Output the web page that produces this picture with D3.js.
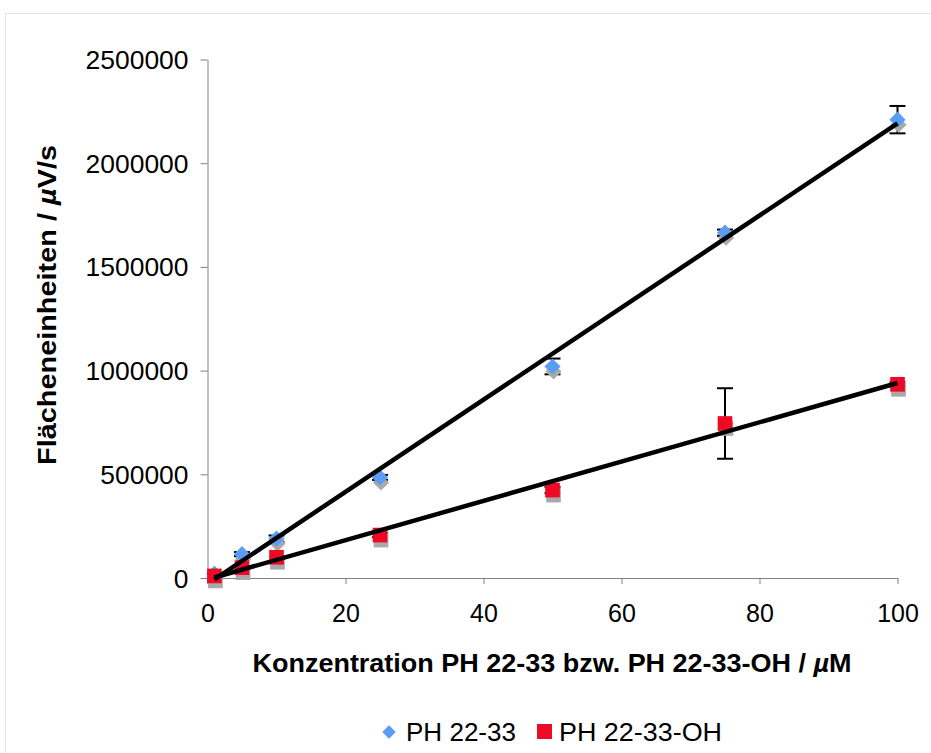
<!DOCTYPE html>
<html>
<head>
<meta charset="utf-8">
<script src="https://cdn.jsdelivr.net/npm/d3@7"></script>
<style>
  body { margin: 0; background: #fff; }
  text { font-family: "Liberation Sans", Arial, Helvetica, sans-serif; fill: #000; }
</style>
</head>
<body>
<div id="chart"></div>
<script>
// data
var conc = [1, 5, 10, 25, 50, 75, 100];
var ph = [20000, 115000, 190000, 485000, 1020000, 1665000, 2210000];
var phErr = [0, 10000, 15000, 12000, 38000, 15000, 66000];
var phOH = [10000, 50000, 100000, 207000, 424000, 745000, 934000];
var phOHErr = [0, 0, 0, 10000, 15000, 170000, 10000];
var xTicks = [0, 20, 40, 60, 80, 100];
var yTicks = [0, 500000, 1000000, 1500000, 2000000, 2500000];
var seriesNames = ["PH 22-33", "PH 22-33-OH"];

var W = 931, H = 753;
var margin = { top: 59.5, right: 33.5, bottom: 175, left: 207.5 },
    width = W - margin.left - margin.right,
    height = H - margin.top - margin.bottom;

var root = d3.select("#chart").append("svg")
    .attr("width", W)
    .attr("height", H);

// light frame round the chart
root.append("rect")
    .attr("x", 5.5).attr("y", 13.5)
    .attr("width", 960).attr("height", 780)
    .attr("fill", "none")
    .attr("stroke", "#e4e4e4");

var svg = root.append("g")
    .attr("transform", "translate(" + margin.left + "," + margin.top + ")");

var x = d3.scaleLinear().domain([0, 100]).range([0, width]);
var y = d3.scaleLinear().domain([0, 2500000]).range([height, 0]);

// axes
var xAxis = svg.append("g")
    .attr("transform", "translate(0," + height + ")")
    .call(d3.axisBottom(x).tickValues(xTicks).tickSize(6).tickPadding(20).tickSizeOuter(0));
var yAxis = svg.append("g")
    .call(d3.axisLeft(y).tickValues(yTicks).tickFormat(d3.format("d")).tickSize(7).tickPadding(12).tickSizeOuter(0));

[xAxis, yAxis].forEach(function(a) {
  a.select(".domain").attr("stroke", "#7f7f7f");
  a.selectAll(".tick line").attr("stroke", "#7f7f7f");
  a.selectAll("text")
    .style("font-family", "'Liberation Sans', Arial, sans-serif")
    .style("font-size", "25px")
    .attr("fill", "#000");
});
yAxis.selectAll("text").attr("dy", "0.36em")
    .attr("textLength", function(d) { return String(d).length * 14.7; })
    .attr("lengthAdjust", "spacingAndGlyphs");

// least squares trend line
function fit(xs, ys) {
  var mx = d3.mean(xs), my = d3.mean(ys);
  var sxy = d3.sum(xs, function(v, i) { return (v - mx) * (ys[i] - my); });
  var sxx = d3.sum(xs, function(v) { return (v - mx) * (v - mx); });
  var b = sxy / sxx;
  return { b: b, a: my - b * mx };
}

var series = [
  { name: seriesNames[0], vals: ph, err: phErr, color: "#5b9cf5", shape: "diamond" },
  { name: seriesNames[1], vals: phOH, err: phOHErr, color: "#ee0a24", shape: "square" }
];

var diamond = d3.symbol().type(d3.symbolSquare).size(130);
var square = d3.symbol().type(d3.symbolSquare).size(215);

// error bars
series.forEach(function(s) {
  var g = svg.append("g").attr("stroke", "#000").attr("stroke-width", 2);
  conc.forEach(function(c, i) {
    if (!s.err[i]) return;
    var cx = x(c), y1 = y(s.vals[i] + s.err[i]), y2 = y(s.vals[i] - s.err[i]);
    g.append("line").attr("x1", cx).attr("x2", cx).attr("y1", y1).attr("y2", y2);
    g.append("line").attr("x1", cx - 8).attr("x2", cx + 8).attr("y1", y1).attr("y2", y1);
    g.append("line").attr("x1", cx - 8).attr("x2", cx + 8).attr("y1", y2).attr("y2", y2);
  });
});

// markers with their grey shadow
series.forEach(function(s) {
  var sym = s.shape === "diamond" ? diamond : square;
  var rot = s.shape === "diamond" ? " rotate(45)" : "";
  svg.append("g").selectAll("path")
    .data(conc)
    .enter()
    .append("path")
      .attr("d", sym)
      .attr("transform", function(d, i) { return "translate(" + (x(d) + 1) + "," + (y(s.vals[i]) + 5) + ")" + rot; })
      .attr("fill", "#a9a9a9");
  svg.append("g").selectAll("path")
    .data(conc)
    .enter()
    .append("path")
      .attr("d", sym)
      .attr("transform", function(d, i) { return "translate(" + x(d) + "," + y(s.vals[i]) + ")" + rot; })
      .attr("fill", s.color);
});

// trend lines
series.forEach(function(s) {
  var f = fit(conc, s.vals);
  var x0 = d3.min(conc), x1 = d3.max(conc);
  svg.append("line")
    .attr("x1", x(x0)).attr("y1", y(f.a + f.b * x0))
    .attr("x2", x(x1)).attr("y2", y(f.a + f.b * x1))
    .attr("stroke", "#000")
    .attr("stroke-width", 4.5);
});

// axis titles
var xt = root.append("text")
    .attr("x", 552).attr("y", 672)
    .attr("text-anchor", "middle")
    .attr("textLength", 599)
    .attr("lengthAdjust", "spacingAndGlyphs")
    .style("font-size", "25px")
    .style("font-weight", "bold");
xt.append("tspan").text("Konzentration PH 22-33 bzw. PH 22-33-OH / ");
xt.append("tspan").style("font-style", "italic").text("µ");
xt.append("tspan").text("M");

var yt = root.append("text")
    .attr("transform", "translate(56,305) rotate(-90)")
    .attr("text-anchor", "middle")
    .attr("textLength", 320)
    .attr("lengthAdjust", "spacingAndGlyphs")
    .style("font-size", "25px")
    .style("font-weight", "bold");
yt.append("tspan").text("Flächeneinheiten / ");
yt.append("tspan").style("font-style", "italic").text("µ");
yt.append("tspan").text("V/s");

// legend
var leg = root.append("g");
leg.append("path")
    .attr("d", d3.symbol().type(d3.symbolSquare).size(90))
    .attr("transform", "translate(389,732) rotate(45)")
    .attr("fill", series[0].color);
leg.append("text").attr("x", 406).attr("y", 741)
    .attr("textLength", 110)
    .attr("lengthAdjust", "spacingAndGlyphs")
    .style("font-size", "25px").text(series[0].name);
leg.append("rect")
    .attr("x", 537).attr("y", 724).attr("width", 15).attr("height", 15)
    .attr("fill", series[1].color);
leg.append("text").attr("x", 559).attr("y", 741)
    .attr("textLength", 163)
    .attr("lengthAdjust", "spacingAndGlyphs")
    .style("font-size", "25px").text(series[1].name);
</script>
</body>
</html>
